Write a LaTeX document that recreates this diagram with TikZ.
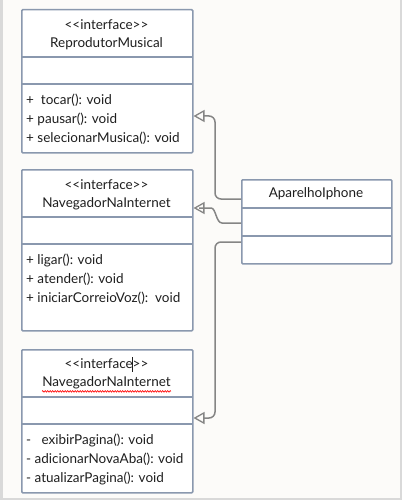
\documentclass[tikz,border=0pt]{standalone}
\usepackage{fontspec}
\setmainfont{Lato}
\usetikzlibrary{arrows.meta,decorations.pathmorphing,calc}
\definecolor{bg}{HTML}{FCFBF9}
\definecolor{frame}{HTML}{D9D9D9}
\definecolor{boxline}{HTML}{8A98AE}
\definecolor{conn}{HTML}{858585}
\definecolor{ink}{HTML}{1E1E1E}
\tikzset{
  umlbox/.style={draw=boxline, line width=1.5pt, fill=white, rounded corners=1pt, inner sep=0pt, anchor=north west},
  divider/.style={draw=boxline, line width=1.5pt},
  title/.style={font=\fontsize{13.5}{15}\selectfont, inner sep=0pt, text=ink},
  member/.style={font=\fontsize{13.5}{15}\selectfont, inner sep=0pt, anchor=west, text=ink},
  realize/.style={draw=conn, line width=1.5pt, rounded corners=6pt, -{Triangle[open, length=11pt, width=12pt, line width=1.3pt]}},
}
\begin{document}
\begin{tikzpicture}[x=1pt, y=-1pt]
\useasboundingbox (0,0) rectangle (402,500);
\fill[bg] (0,0) rectangle (402,500);
\fill[frame] (0,0) rectangle (3,500);
\fill[frame] (400,0) rectangle (402,500);
\fill[frame] (0,498) rectangle (402,500);

% Box 1
\node[umlbox, minimum width=171pt, minimum height=143pt] (b1) at (21,9) {};
\draw[divider] (21,57) -- (192,57);
\draw[divider] (21,84) -- (192,84);
\node[title] (b1s) at (106.5,25) {{<}{<}interface{>}{>}};
\node[title] (b1n) at (106.5,44) {ReprodutorMusical};
\node[member] (b1m1) at (26,100) {+\ \ tocar(): void};
\node[member] (b1m2) at (26,119) {+ pausar(): void};
\node[member] (b1m3) at (26,138) {+ selecionarMusica(): void};

% Box 2
\node[umlbox, minimum width=171pt, minimum height=161pt] (b2) at (21,169) {};
\draw[divider] (21,217) -- (192,217);
\draw[divider] (21,244) -- (192,244);
\node[title] (b2s) at (106.5,185) {{<}{<}interface{>}{>}};
\node[title] (b2n) at (106.5,204) {NavegadorNaInternet};
\node[member] (b2m1) at (26,260) {+ ligar(): void};
\node[member] (b2m2) at (26,279) {+ atender(): void};
\node[member] (b2m3) at (26,298) {+ iniciarCorreioVoz():\ \ void};

% Box 3
\node[umlbox, minimum width=171pt, minimum height=143pt] (b3) at (21,349) {};
\draw[divider] (21,397) -- (192,397);
\draw[divider] (21,424) -- (192,424);
\node[title] (b3s) at (106.5,364) {{<}{<}interface\makebox[0pt]{\rule[-3pt]{0.7pt}{15pt}}{>}{>}};
\node[title] (b3n) at (106.5,383) {NavegadorNaInternet};
\draw[red, line width=0.6pt, decorate, decoration={zigzag, amplitude=0.8pt, segment length=2.5pt}] ($(b3n.south west)+(0,2)$) -- ($(b3n.south east)+(0,2)$);
\node[member] (b3m1) at (26,440) {-\ \ \ exibirPagina(): void};
\node[member] (b3m2) at (26,459) {- adicionarNovaAba(): void};
\node[member] (b3m3) at (26,478) {- atualizarPagina(): void};

% Aparelho
\node[umlbox, minimum width=150pt, minimum height=84pt] (ap) at (241,179) {};
\draw[divider] (241,208) -- (391,208);
\draw[divider] (241,236) -- (391,236);
\node[title] (apn) at (316,194) {AparelhoIphone};

% connectors
\draw[realize] (ap.west |- 0,199) -- (215,199) -- (215,116) -- (b1.east |- 0,116);
\draw[realize] (ap.west |- 0,223) -- (228,223) .. controls (216,223) and (216,208) .. (205,208) -- (b2.east |- 0,208);
\draw[realize] (ap.west |- 0,242) -- (215,242) -- (215,418) -- (b3.east |- 0,418);
\end{tikzpicture}
\end{document}
